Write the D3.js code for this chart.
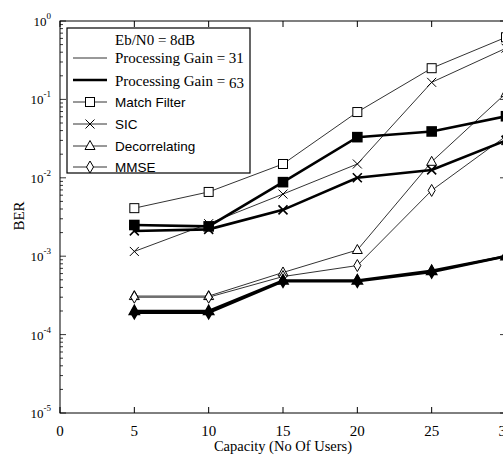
<!DOCTYPE html>
<html lang="en">
<head>
  <meta charset="UTF-8">
  <title>BER vs Capacity</title>
  <style>
    body { margin: 0; background: #fff; }
    .serif { font-family: "Liberation Serif", "Times New Roman", serif; }
    .sans { font-family: "Liberation Sans", Arial, sans-serif; }
  </style>
</head>
<body>
  <div id="chart"></div>

  <script src="https://d3js.org/d3.v7.min.js"></script>
  <script>
    // Data
    const capacity = [5, 10, 15, 20, 25, 30];

    // Processing gain = 31 (thin lines)
    const mf31   = [4.1e-3, 6.6e-3, 0.015, 0.069, 0.25, 0.62];
    const sic31  = [1.15e-3, 2.6e-3, 6.2e-3, 0.015, 0.165, 0.45];
    const dec31  = [3.1e-4, 3.1e-4, 6.2e-4, 1.2e-3, 0.016, 0.12];
    const mmse31 = [3.0e-4, 3.0e-4, 5.5e-4, 7.6e-4, 6.9e-3, 0.034];

    // Processing gain = 63 (thick lines)
    const mf63   = [2.5e-3, 2.4e-3, 8.8e-3, 0.033, 0.039, 0.061];
    const sic63  = [2.1e-3, 2.2e-3, 3.9e-3, 0.01, 0.0126, 0.03];
    const dec63  = [2.0e-4, 2.0e-4, 4.9e-4, 4.9e-4, 6.5e-4, 1.0e-3];
    const mmse63 = [1.9e-4, 1.9e-4, 4.8e-4, 4.8e-4, 6.3e-4, 1.0e-3];

    const xTicks = [0, 5, 10, 15, 20, 25, 30];
    const yDecades = [-5, -4, -3, -2, -1, 0];
    const legendRows = ["Match Filter", "SIC", "Decorrelating", "MMSE"];
    const markerTypes = ["square", "x", "triangle", "diamond"];

    const series = [
      { values: mf31,   marker: "square",   thick: false },
      { values: sic31,  marker: "x",        thick: false },
      { values: dec31,  marker: "triangle", thick: false },
      { values: mmse31, marker: "diamond",  thick: false },
      { values: mf63,   marker: "square",   thick: true },
      { values: sic63,  marker: "x",        thick: true },
      { values: dec63,  marker: "triangle", thick: true },
      { values: mmse63, marker: "diamond",  thick: true }
    ];

    const width = 503, height = 461;
    const svg = d3.select("#chart").append("svg")
      .attr("width", width)
      .attr("height", height);

    svg.append("rect").attr("width", width).attr("height", height).attr("fill", "#fff");

    // Scales (right side of the frame falls just outside the picture)
    const x = d3.scaleLinear().domain([0, 30]).range([60, 506]);
    const y = d3.scaleLog().domain([1e-5, 1]).range([413, 21]);

    // Frame
    svg.append("rect")
      .attr("x", 60).attr("y", 21)
      .attr("width", 446).attr("height", 392)
      .attr("fill", "none").attr("stroke", "#000").attr("stroke-width", 1);

    // x ticks (inside, top and bottom)
    xTicks.forEach(t => {
      svg.append("line").attr("x1", x(t)).attr("x2", x(t)).attr("y1", 413).attr("y2", 407)
        .attr("stroke", "#000");
      svg.append("line").attr("x1", x(t)).attr("x2", x(t)).attr("y1", 21).attr("y2", 27)
        .attr("stroke", "#000");
      svg.append("text").attr("class", "serif")
        .attr("x", x(t)).attr("y", 436)
        .attr("text-anchor", "middle")
        .attr("font-size", 15)
        .text(t);
    });

    // y ticks, log minors included
    y.ticks().forEach(t => {
      const major = Math.abs(Math.log10(t) - Math.round(Math.log10(t))) < 1e-9;
      const len = major ? 6 : 3;
      svg.append("line").attr("x1", 60).attr("x2", 60 + len).attr("y1", y(t)).attr("y2", y(t))
        .attr("stroke", "#000").attr("stroke-width", 0.8);
      svg.append("line").attr("x1", 506).attr("x2", 506 - len).attr("y1", y(t)).attr("y2", y(t))
        .attr("stroke", "#000").attr("stroke-width", 0.8);
    });

    yDecades.forEach(e => {
      const label = svg.append("text").attr("class", "serif")
        .attr("x", 51).attr("y", y(Math.pow(10, e)) + 5)
        .attr("text-anchor", "end")
        .attr("font-size", 13);
      label.append("tspan").text("10");
      label.append("tspan").attr("dy", -7).attr("font-size", 9).text(e);
    });

    // Axis titles
    svg.append("text").attr("class", "serif")
      .attr("x", x(15)).attr("y", 451)
      .attr("text-anchor", "middle").attr("font-size", 14.5)
      .text("Capacity (No Of Users)");
    svg.append("text").attr("class", "serif")
      .attr("transform", "translate(24,216) rotate(-90)")
      .attr("text-anchor", "middle").attr("font-size", 15)
      .text("BER");

    // Marker drawing helper
    function drawMarker(g, type, cx, cy, filled) {
      const fill = filled ? "#000" : "#fff";
      const sw = filled ? 1.6 : 1;
      if (type === "square") {
        g.append("rect").attr("x", cx - 4.5).attr("y", cy - 4.5).attr("width", 9).attr("height", 9)
          .attr("fill", fill).attr("stroke", "#000").attr("stroke-width", sw);
      } else if (type === "x") {
        g.append("path")
          .attr("d", `M${cx - 4.5},${cy - 4.5}L${cx + 4.5},${cy + 4.5}M${cx - 4.5},${cy + 4.5}L${cx + 4.5},${cy - 4.5}`)
          .attr("stroke", "#000").attr("stroke-width", sw).attr("fill", "none");
      } else if (type === "triangle") {
        g.append("path")
          .attr("d", `M${cx},${cy - 5.5}L${cx + 5},${cy + 3.5}L${cx - 5},${cy + 3.5}Z`)
          .attr("fill", fill).attr("stroke", "#000").attr("stroke-width", sw);
      } else if (type === "diamond") {
        g.append("path")
          .attr("d", `M${cx},${cy - 6}L${cx + 3.5},${cy}L${cx},${cy + 6}L${cx - 3.5},${cy}Z`)
          .attr("fill", fill).attr("stroke", "#000").attr("stroke-width", sw);
      }
    }

    const line = d3.line()
      .x((d, i) => x(capacity[i]))
      .y(d => y(d));

    const plot = svg.append("g");

    series.forEach(s => {
      plot.append("path")
        .attr("d", line(s.values))
        .attr("fill", "none")
        .attr("stroke", s.thick ? "#000" : "#333")
        .attr("stroke-width", s.thick ? 2.6 : 1);
    });

    series.forEach(s => {
      const g = plot.append("g");
      s.values.forEach((v, i) => drawMarker(g, s.marker, x(capacity[i]), y(v), s.thick));
    });

    // Legend
    const legend = svg.append("g");
    legend.append("rect")
      .attr("x", 67).attr("y", 28).attr("width", 183).attr("height", 145)
      .attr("fill", "#fff").attr("stroke", "#000").attr("stroke-width", 1.2);

    legend.append("text").attr("class", "serif")
      .attr("x", 115).attr("y", 45).attr("font-size", 15)
      .text("Eb/N0 = 8dB");

    legend.append("line").attr("x1", 73).attr("x2", 107).attr("y1", 58).attr("y2", 58)
      .attr("stroke", "#333").attr("stroke-width", 1);
    legend.append("text").attr("class", "serif")
      .attr("x", 115).attr("y", 63).attr("font-size", 15)
      .text("Processing Gain = 31");

    legend.append("line").attr("x1", 73).attr("x2", 107).attr("y1", 80).attr("y2", 80)
      .attr("stroke", "#000").attr("stroke-width", 2.6);
    const pg63 = legend.append("text").attr("class", "serif")
      .attr("x", 115).attr("y", 86).attr("font-size", 15);
    pg63.append("tspan").text("Processing Gain = ");
    pg63.append("tspan").attr("dy", 2).text("63");

    const rowY = [102, 124, 146, 167];
    legendRows.forEach((name, i) => {
      legend.append("line").attr("x1", 73).attr("x2", 107).attr("y1", rowY[i]).attr("y2", rowY[i])
        .attr("stroke", "#333").attr("stroke-width", 1);
      drawMarker(legend, markerTypes[i], 90, rowY[i], false);
      legend.append("text").attr("class", "sans")
        .attr("x", 115).attr("y", rowY[i] + 5).attr("font-size", 13.5)
        .text(name);
    });
  </script>
</body>
</html>
